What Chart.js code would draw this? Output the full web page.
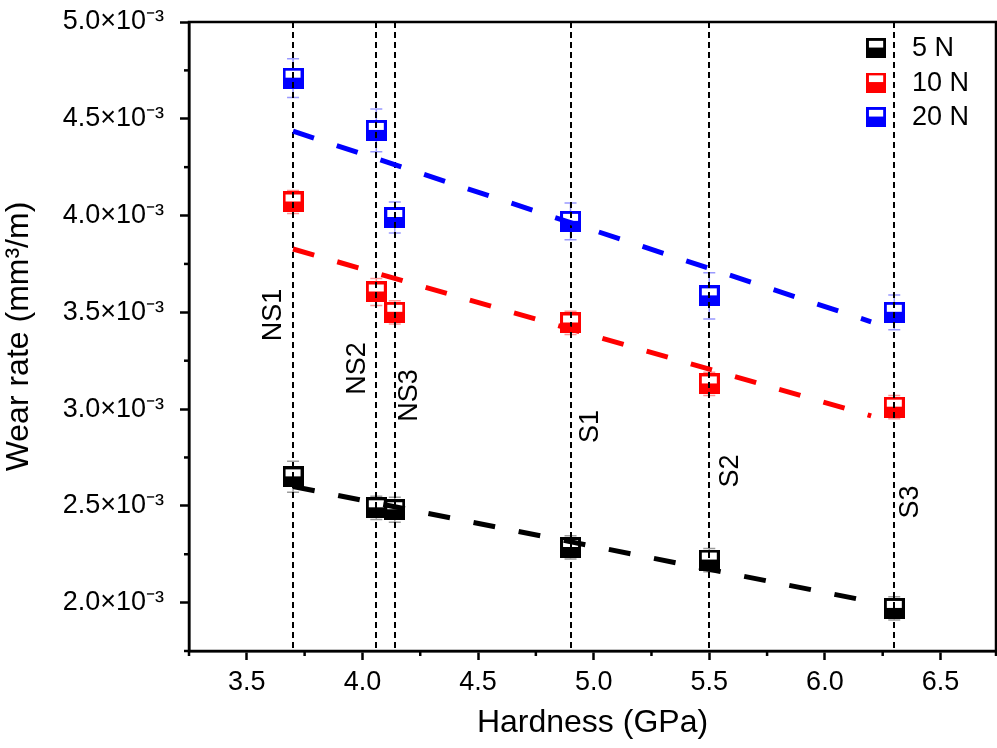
<!DOCTYPE html>
<html>
<head>
<meta charset="utf-8">
<script src="https://cdn.jsdelivr.net/npm/chart.js@4.4.1/dist/chart.umd.min.js"></script>
<style>
  html, body { margin: 0; padding: 0; background: #fff; }
  canvas { display: block; }
</style>
</head>
<body>
<canvas id="wearChart" width="997" height="748"></canvas>
<script>
// Hardness of each coating (GPa) and sample names
const hardness = [3.7, 4.06, 4.14, 4.9, 5.5, 6.3]
const sampleNames = ["NS1", "NS2", "NS3", "S1", "S2", "S3"]

// Wear rate, in units of 10^-3 mm3/m
const wear5N = [2.65, 2.49, 2.48, 2.285, 2.22, 1.97]
const wear10N = [4.07, 3.605, 3.5, 3.445, 3.13, 3.01]
const wear20N = [4.71, 4.44, 3.99, 3.97, 3.585, 3.5]

// Error bars (+/-), same units
const err5N = [0.08, 0.06, 0.065, 0.06, 0.06, 0.06]
const err10N = [0.06, 0.07, 0.06, 0.06, 0.06, 0.06]
const err20N = [0.1, 0.11, 0.08, 0.095, 0.12, 0.09]

// Linear fit lines (start / end)
const fitX = [3.7, 6.2]
const fit5N = [2.6, 2.005]
const fit10N = [3.827, 2.965]
const fit20N = [4.436, 3.451]

// Axis ticks (major ones get a label)
const xTicks = [3.25, 3.5, 3.75, 4.0, 4.25, 4.5, 4.75, 5.0, 5.25, 5.5, 5.75, 6.0, 6.25, 6.5, 6.74]
const yTicks = [1.75, 2.0, 2.25, 2.5, 2.75, 3.0, 3.25, 3.5, 3.75, 4.0, 4.25, 4.5, 4.75, 5.0]

// Where the sample name sits along each reference line (value units) and side offset (px)
const labelY = [3.486, 3.21, 3.07, 2.91, 2.68, 2.52]
const labelDx = [-20, -19, 15, 20, 21, 16]

const FONT = "'Liberation Sans', Arial, sans-serif"

function makeMarker(color) {
  const c = document.createElement("canvas")
  c.width = 21
  c.height = 21
  const g = c.getContext("2d")
  g.fillStyle = color
  g.fillRect(0, 0, 21, 21)
  g.fillStyle = "#fff"
  g.fillRect(3, 3, 15, 7)
  return c
}

const series = [
  { label: "5 N", color: "#000000", err: "rgba(90,90,90,0.6)", y: wear5N, e: err5N, fit: fit5N },
  { label: "10 N", color: "#ff0000", err: "rgba(255,60,60,0.55)", y: wear10N, e: err10N, fit: fit10N },
  { label: "20 N", color: "#0000ff", err: "rgba(70,70,255,0.55)", y: wear20N, e: err20N, fit: fit20N },
]
series.forEach((s) => (s.marker = makeMarker(s.color)))

const datasets = []
series.forEach((s) => {
  datasets.push({
    label: s.label,
    data: hardness.map((x, i) => ({ x: x, y: s.y[i] })),
    pointStyle: s.marker,
    pointRadius: 10,
    showLine: false,
    order: 2,
    errors: s.e,
    errColor: s.err,
  })
})
series.forEach((s) => {
  datasets.push({
    label: s.label + " fit",
    data: fitX.map((x, i) => ({ x: x, y: s.fit[i] })),
    showLine: true,
    borderColor: s.color,
    borderWidth: 5,
    borderDash: [22, 24],
    pointRadius: 0,
    order: 1,
    isFit: true,
  })
})

const isMajor = (v) => Math.abs(v * 2 - Math.round(v * 2)) < 1e-6

const extras = {
  id: "extras",
  beforeDraw(chart) {
    chart._refsDone = false
  },
  beforeDatasetsDraw(chart) {
    // error bars under the markers
    const { ctx, scales } = chart
    ctx.save()
    chart.data.datasets.forEach((ds) => {
      if (!ds.errors) return
      ctx.strokeStyle = ds.errColor
      ctx.lineWidth = 1.5
      ds.data.forEach((p, i) => {
        const x = scales.x.getPixelForValue(p.x)
        const y1 = scales.y.getPixelForValue(p.y + ds.errors[i])
        const y2 = scales.y.getPixelForValue(p.y - ds.errors[i])
        ctx.beginPath()
        ctx.moveTo(x, y1)
        ctx.lineTo(x, y2)
        ctx.moveTo(x - 6, y1)
        ctx.lineTo(x + 6, y1)
        ctx.moveTo(x - 6, y2)
        ctx.lineTo(x + 6, y2)
        ctx.stroke()
      })
    })
    ctx.restore()
  },
  beforeDatasetDraw(chart, args) {
    const ds = chart.data.datasets[args.index]
    if (!ds.isFit || chart._refsDone) return
    chart._refsDone = true
    // vertical reference lines and sample labels
    const { ctx, scales, chartArea } = chart
    ctx.save()
    ctx.strokeStyle = "#000"
    ctx.lineWidth = 2
    ctx.setLineDash([6, 4])
    hardness.forEach((h) => {
      const x = Math.round(scales.x.getPixelForValue(h))
      ctx.beginPath()
      ctx.moveTo(x, chartArea.top)
      ctx.lineTo(x, chartArea.bottom)
      ctx.stroke()
    })
    ctx.setLineDash([])
    ctx.fillStyle = "#000"
    ctx.font = "27px " + FONT
    ctx.textAlign = "center"
    ctx.textBaseline = "middle"
    sampleNames.forEach((name, i) => {
      const x = scales.x.getPixelForValue(hardness[i]) + labelDx[i]
      const y = scales.y.getPixelForValue(labelY[i])
      ctx.save()
      ctx.translate(x, y)
      ctx.rotate(-Math.PI / 2)
      ctx.fillText(name, 0, 0)
      ctx.restore()
    })
    ctx.restore()
  },
  afterDraw(chart) {
    const { ctx, scales, chartArea } = chart
    ctx.save()
    // frame
    ctx.strokeStyle = "#000"
    ctx.lineWidth = 2.5
    ctx.strokeRect(chartArea.left, chartArea.top, chartArea.right - chartArea.left, chartArea.bottom - chartArea.top)
    // minor ticks
    scales.x.ticks.forEach((t) => {
      if (isMajor(t.value)) return
      const x = scales.x.getPixelForValue(t.value)
      ctx.beginPath()
      ctx.moveTo(x, chartArea.bottom)
      ctx.lineTo(x, chartArea.bottom + 5)
      ctx.stroke()
    })
    scales.y.ticks.forEach((t) => {
      if (isMajor(t.value)) return
      const y = scales.y.getPixelForValue(t.value)
      ctx.beginPath()
      ctx.moveTo(chartArea.left, y)
      ctx.lineTo(chartArea.left - 5, y)
      ctx.stroke()
    })
    // legend
    ctx.font = "27px " + FONT
    ctx.fillStyle = "#000"
    ctx.textAlign = "left"
    ctx.textBaseline = "middle"
    series.forEach((s, i) => {
      const y = chartArea.top + 26 + i * 34.5
      const x = chartArea.right - 120
      ctx.drawImage(s.marker, x - 10, y - 10, 20, 20)
      ctx.fillText(s.label, x + 36, y + 1)
    })
    ctx.restore()
  },
}

new Chart(document.getElementById("wearChart").getContext("2d"), {
  type: "scatter",
  data: { datasets: datasets },
  plugins: [extras],
  options: {
    responsive: false,
    animation: false,
    devicePixelRatio: 1,
    layout: { autoPadding: false, padding: { top: 22, right: 1, left: 0, bottom: 0 } },
    plugins: { legend: { display: false }, tooltip: { enabled: false } },
    scales: {
      x: {
        type: "linear",
        min: 3.25,
        max: 6.74,
        afterBuildTicks: (scale) => { scale.ticks = xTicks.map((v) => ({ value: v })) },
        afterFit: (scale) => {
          scale.height = 97
          scale.paddingLeft = 0
          scale.paddingRight = 0
        },
        border: { color: "#000", width: 2.5 },
        grid: {
          drawOnChartArea: false,
          tickLength: 9,
          tickWidth: 2.5,
          tickColor: (c) => (c.tick && isMajor(c.tick.value) ? "#000" : "rgba(0,0,0,0)"),
        },
        ticks: {
          autoSkip: false,
          maxRotation: 0,
          color: "#000",
          padding: 6,
          font: { family: FONT, size: 27 },
          callback: (v) => (isMajor(v) ? v.toFixed(1) : ""),
        },
        title: {
          display: true,
          text: "Hardness (GPa)",
          color: "#000",
          font: { family: FONT, size: 32 },
          padding: { top: 2, bottom: 6 },
        },
      },
      y: {
        min: 1.75,
        max: 5.0,
        afterBuildTicks: (scale) => { scale.ticks = yTicks.map((v) => ({ value: v })) },
        afterFit: (scale) => {
          scale.width = 189
          scale.paddingTop = 0
          scale.paddingBottom = 0
        },
        border: { color: "#000", width: 2.5 },
        grid: {
          drawOnChartArea: false,
          tickLength: 9,
          tickWidth: 2.5,
          tickColor: (c) => (c.tick && isMajor(c.tick.value) ? "#000" : "rgba(0,0,0,0)"),
        },
        ticks: {
          autoSkip: false,
          color: "#000",
          padding: 16,
          font: { family: FONT, size: 27 },
          callback: (v) => (isMajor(v) ? v.toFixed(1) + "×10⁻³" : ""),
        },
        title: {
          display: true,
          text: "Wear rate (mm³/m)",
          color: "#000",
          font: { family: FONT, size: 32 },
          padding: { top: 0, bottom: 0 },
        },
      },
    },
  },
})
</script>
</body>
</html>
